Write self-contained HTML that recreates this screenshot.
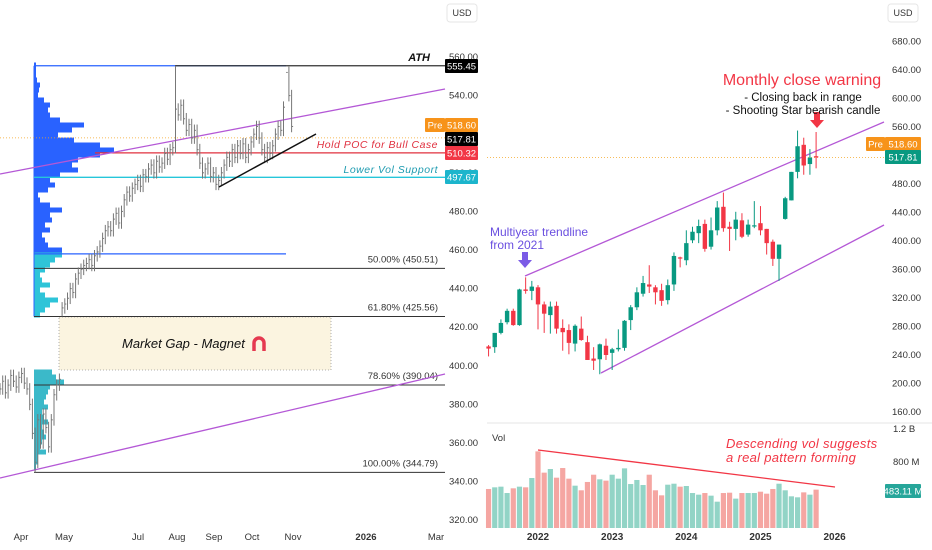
<!DOCTYPE html>
<html><head><meta charset="utf-8"><style>
body{margin:0;background:#fff;}
svg{display:block;font-family:"Liberation Sans",sans-serif;}
</style></head><body>
<svg id="c" width="932" height="550" viewBox="0 0 932 550" xmlns="http://www.w3.org/2000/svg"></svg>
<script>
// ---------- LEFT (daily) data ----------
const dailyCloses=[388,392,386,390,395,392,389,394,396,391,388,380,365,350,372,360,375,368,358,372,385,390,393,430,432,435,440,438,445,448,450,452,453,455,452,457,459,462,466,470,472,470,476,479,474,480,486,490,488,492,494,496,493,499,498,502,504,500,506,503,505,510,507,512,513,533,530,535,528,522,525,518,522,512,505,500,502,505,498,500,494,496,500,504,508,506,512,508,514,510,515,508,512,516,520,524,518,512,508,513,510,514,520,524,522,534,552,540,524];
const dailyHighSpikes={13:344.79,23:425.56,65:555.45,106:555};
const leftTicks=[560,540,520,500,480,460,440,420,400,380,360,340,320];
const leftMonths=["Apr","May","Jul","Aug","Sep","Oct","Nov","2026","Mar"];
const leftMonthPos=[21,64,138,177,214,252,293,366,436];
const fibLabels=["50.00% (450.51)","61.80% (425.56)","78.60% (390.04)","100.00% (344.79)"];
const fibPrices=[450.51,425.56,390.04,344.79];
const profileTop=[2,2,2,3,6,5,4,10,16,14,16,26,50,38,24,40,66,80,66,44,38,44,26,16,21,14,4,6,16,28,16,18,11,16,8,11,14,28,28,21,16,11,6,8,16,6,11,24,16,11,6];
const profileLow=[18,22,30,16,14,12,10,14,8,10,14,8,10,12,8,6,12,4,4,2];
// ---------- RIGHT (monthly) data ----------
const mOpen=[252,251,271,286,302,282,332,330,335,311,296,309,278,275,256,277,258,235,234,253,243,248,250,289,307,326,339,335,331,317,339,377,373,401,411,424,392,415,448,420,417,429,409,421,425,417,399,375,431,457,497,535,508,519];
const mHigh=[254,271,290,305,305,333,349,344,338,315,315,315,290,283,283,294,267,251,256,263,250,276,289,310,335,351,366,338,340,346,384,378,415,420,430,430,433,456,468,427,441,439,430,456,449,417,402,395,462,497,555,545,529,553];
const mLow=[238,243,269,283,281,281,326,317,276,271,270,270,246,241,245,260,233,219,213,233,219,245,246,275,303,322,327,311,309,311,330,363,366,397,397,385,388,408,413,386,401,404,406,418,408,381,365,344,430,457,488,493,493,502];
const mClose=[249,271,285,302,282,332,330,336,311,298,308,277,272,257,281,261,233,232,255,240,248,250,288,307,328,341,336,328,316,338,379,376,397,413,421,389,415,447,418,417,430,406,423,422,415,397,375,395,460,497,533,506,517,518];
const mVolume=[473,493,501,424,481,501,493,606,929,671,715,610,727,598,513,457,558,646,590,574,646,598,723,533,582,521,646,457,396,525,537,501,509,424,404,424,392,319,424,428,356,424,424,424,440,416,473,537,457,384,372,432,404,465];
const rightTicks=[680,640,600,560,480,440,400,360,320,280,240,200,160];
const yearLabels=["2022","2023","2024","2025","2026"];
const yearIndex=[8,20,32,44,56];
const volTicks=[{v:1200,t:"1.2 B"},{v:800,t:"800 M"},{v:400,t:"400 M"}];

const NS="http://www.w3.org/2000/svg";
const svg=document.getElementById('c');
function mk(tag,attrs,parent){const e=document.createElementNS(NS,tag);for(const k in attrs)e.setAttribute(k,attrs[k]);(parent||svg).appendChild(e);return e;}
function txt(s,attrs,parent){const e=mk('text',attrs,parent);e.textContent=s;return e;}

// axes
const ly=p=>57+(560-p)*1.93;
const lx=i=>i*2.7;
const ry=p=>127+(560-p)*0.7125;
const rx=i=>538+(i-8)*6.18;
const vy=v=>528-v*0.0825;

// ----- LEFT PANEL -----
const L=mk('g',{});



// market gap box
const gap=mk('rect',{x:59,y:317,width:272,height:53,fill:'#fbf4e0',stroke:'#999','stroke-dasharray':'1,2','stroke-width':0.8},L);


const gt=txt('Market Gap - Magnet',{x:122,y:348,'font-size':13,'font-style':'italic',fill:'#111'},L);


const mag=mk('path',{d:'M254 351 L254 343 A5 5 0 0 1 264 343 L264 351',fill:'none',stroke:'#e53950','stroke-width':3.5},L);



// volume profile upper
profileTop.forEach((w,i)=>{const y=65+i*5;const p=560-(y-57)/1.93;
 const r=mk('rect',{x:34,y:y-2.5,width:w,height:5,fill:p>=458?'#2962ff':'#2ec4d8'},L);
 
 });
profileLow.forEach((w,i)=>{const y=372+i*5;
 const r=mk('rect',{x:34,y:y-2.5,width:w,height:5,fill:'#3bb9c9'},L);
 
 });

// lines
function line(x1,y1,x2,y2,st,w,name,dash){const l=mk('line',{x1,y1,x2,y2,stroke:st,'stroke-width':w||1},L);if(dash)l.setAttribute('stroke-dasharray',dash);return l;}
line(34,ly(555.45),286,ly(555.45),'#2962ff',1.3,'profile-box-top');
line(34,ly(458),286,ly(458),'#2962ff',1.3,'profile-box-bottom');
line(34,ly(555.45),34,ly(425.56),'#2962ff',1,'profile-box-left');
line(175,ly(555.45),445,ly(555.45),'#333',1.2,'ath-line');
line(0,ly(518.6)+1,445,ly(518.6)+1,'#f5a623',0.8,'premarket-line','1,2');
line(95,ly(510.32),445,ly(510.32),'#e0303f',1.3,'poc-line');
line(34,ly(497.67),445,ly(497.67),'#26c6da',1.3,'lower-vol-support-line');
fibPrices.forEach((p,i)=>{line(34,ly(p),445,ly(p),'#333',1,'fib-line');
 const t=txt(fibLabels[i],{x:438,y:ly(p)-6,'font-size':9.5,'text-anchor':'end',fill:'#333'},L);
 
 });
line(0,174,445,89,'#b458d6',1.3,'upper-trendline-left');
line(0,478,445,374,'#b458d6',1.3,'lower-trendline-left');

// daily bars
dailyCloses.forEach((c,i)=>{const o=i?dailyCloses[i-1]:c;let hi=Math.max(o,c)+3,lo=Math.min(o,c)-3;
 if(dailyHighSpikes[i]!==undefined){if(dailyHighSpikes[i]>hi)hi=dailyHighSpikes[i];else lo=dailyHighSpikes[i];}
 const x=lx(i);const g=mk('g',{},L);
 
 
 mk('line',{x1:x,y1:ly(hi),x2:x,y2:ly(lo),stroke:'#777','stroke-width':1},g);
 mk('line',{x1:x,y1:ly(c),x2:x+1.5,y2:ly(c),stroke:'#777','stroke-width':1},g);});
line(219,187,316,134,'#111',1.5,'ascending-support-line');

// annotations
function ann(s,x,y,size,col,name,extra){const t=txt(s,Object.assign({x,y,'font-size':size,fill:col},extra||{}));return t;}
ann('ATH',430,61,11,'#111','ath-label',{'font-style':'italic','font-weight':'bold','text-anchor':'end'});
ann('Hold POC for Bull Case',438,148,10.5,'#e0303f','poc-annotation',{'font-style':'italic','text-anchor':'end','letter-spacing':'0.5'});
ann('Lower Vol Support',438,173,10.5,'#1d9bb0','support-annotation',{'font-style':'italic','text-anchor':'end','letter-spacing':'0.5'});

// left axis
leftTicks.forEach(p=>ann(p.toFixed(2),449,ly(p)+3,9.5,'#333','left-price-tick'));
leftMonths.forEach((m,i)=>ann(m,leftMonthPos[i],540,9.5,'#333','left-time-tick',{'text-anchor':'middle','font-weight':m==='2026'?'bold':'normal'}));
function box(x,y,w,h,fill,s,col,name){const g=mk('g',{});
 mk('rect',{x,y,width:w,height:h,fill,rx:1},g);const t=txt(s,{x:x+w/2,y:y+h/2+3.5,'font-size':9.5,fill:col,'text-anchor':'middle'},g);return g;}
box(445,59,33,14,'#000','555.45','#fff','ath-price-badge');
box(425,118,20,14,'#f7931a','Pre','#fff','pre-tag-left');
box(445,118,33,14,'#f7931a','518.60','#fff','premarket-price-left');
box(445,132,33,14,'#000','517.81','#fff','last-price-left');
box(445,146,33,14,'#f23645','510.32','#fff','poc-price-badge');
box(445,170,33,14,'#1cb5cc','497.67','#fff','support-price-badge');
const u1=mk('g',{});
mk('rect',{x:447,y:4,width:30,height:18,fill:'#fff',stroke:'#e6e6e6',rx:3},u1);txt('USD',{x:462,y:16,'font-size':9,'text-anchor':'middle',fill:'#333'},u1);

// ----- RIGHT PANEL -----
const R=mk('g',{});


mk('line',{x1:487,y1:423,x2:932,y2:423,stroke:'#e5e5e5'},R);
mk('line',{x1:487,y1:ry(518.6)+1,x2:885,y2:ry(518.6)+1,stroke:'#f5a623','stroke-width':0.8,'stroke-dasharray':'1,2'},R);
// trendlines
[[525,276,884,122,'upper-channel-line'],[601,373,884,225,'lower-channel-line']].forEach(a=>{const l=mk('line',{x1:a[0],y1:a[1],x2:a[2],y2:a[3],stroke:'#b458d6','stroke-width':1.3},R);});
// candles
mOpen.forEach((o,i)=>{const c=mClose[i];const up=c>=o;const col=up?'#089981':'#f23645';const x=rx(i);
 const g=mk('g',{},R);
 
 
 mk('line',{x1:x,y1:ry(mHigh[i]),x2:x,y2:ry(mLow[i]),stroke:col,'stroke-width':1},g);
 const t=ry(Math.max(o,c)),b=ry(Math.min(o,c));
 mk('rect',{x:x-2.2,y:t,width:4.4,height:Math.max(1.2,b-t),fill:col},g);});
// volume
mVolume.forEach((v,i)=>{const up=mClose[i]>=mOpen[i];const x=rx(i);
 const r=mk('rect',{x:x-2.6,y:vy(v),width:5.2,height:528-vy(v),fill:up?'#92d4c6':'#f5a6a2'},R);
 
 });
const vl=mk('line',{x1:538,y1:450,x2:835,y2:487,stroke:'#f23645','stroke-width':1.3},R);

ann('Vol',492,441,9.5,'#333','volume-pane-title');
ann('Descending vol suggests',726,448,13,'#f23645','volume-annotation-1',{'font-style':'italic','letter-spacing':'0.3'});
ann('a real pattern forming',726,462,13,'#f23645','volume-annotation-2',{'font-style':'italic','letter-spacing':'0.3'});
ann('Monthly close warning',802,85,16,'#f23645','warning-title',{'text-anchor':'middle'});
ann('- Closing back in range',803,101,11.5,'#111','warning-line-1',{'text-anchor':'middle'});
ann('- Shooting Star bearish candle',803,114,11.5,'#111','warning-line-2',{'text-anchor':'middle'});
const ar=mk('path',{d:'M814 112 h6 v8 h4 l-7 8 l-7 -8 h4 z',fill:'#f23645'},R);
ann('Multiyear trendline',490,236,12,'#6a4fe0','trendline-annotation-1');
ann('from 2021',490,249,12,'#6a4fe0','trendline-annotation-2');
const ar2=mk('path',{d:'M522 252 h6 v8 h4 l-7 8 l-7 -8 h4 z',fill:'#7b5be6'},R);
// right axis
rightTicks.forEach(p=>ann(p.toFixed(2),892,ry(p)+3,9.5,'#333','right-price-tick'));
volTicks.forEach(t=>ann(t.t,893,vy(t.v)+3,9.5,'#333','volume-tick'));
yearLabels.forEach((s,i)=>ann(s,rx(yearIndex[i]),540,10,'#333','year-tick',{'text-anchor':'middle','font-weight':'bold'}));
box(866,137,19,14,'#f7931a','Pre','#fff','pre-tag-right');
box(885,137,36,14,'#f7931a','518.60','#fff','premarket-price-right');
box(885,150,36,14,'#089981','517.81','#fff','last-price-right');
box(885,484,36,14,'#26a69a','483.11 M','#fff','last-volume-badge');
const u2=mk('g',{});
mk('rect',{x:888,y:4,width:30,height:18,fill:'#fff',stroke:'#e6e6e6',rx:3},u2);txt('USD',{x:903,y:16,'font-size':9,'text-anchor':'middle',fill:'#333'},u2);
</script>
</body></html>
